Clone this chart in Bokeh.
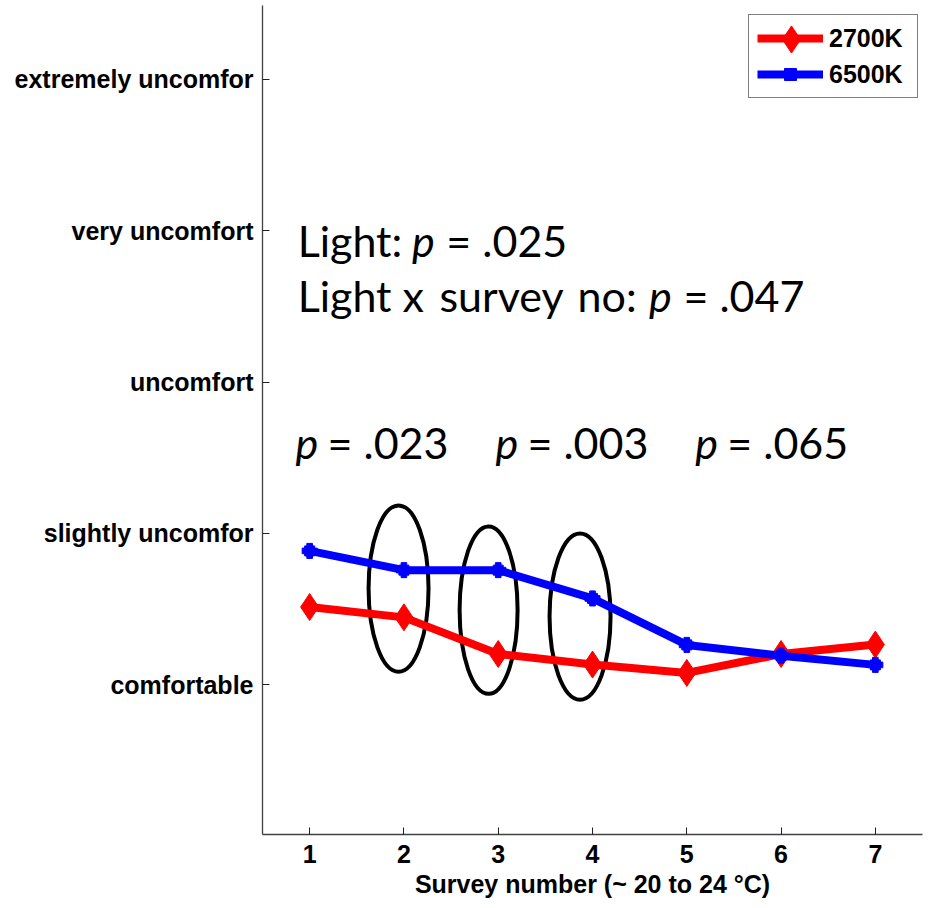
from bokeh.plotting import figure
from bokeh.models import Range1d, FixedTicker, Legend, LegendItem, Label
from bokeh.embed import file_html
from bokeh.resources import INLINE

# ---- data ----
survey = [1, 2, 3, 4, 5, 6, 7]
warm_2700K = [1.514, 1.446, 1.204, 1.134, 1.079, 1.204, 1.266]
cool_6500K = [1.885, 1.758, 1.758, 1.571, 1.264, 1.193, 1.132]
comfort_levels = [1, 2, 3, 4, 5]
comfort_labels = ["comfortable", "slightly uncomfor", "uncomfort",
                  "very uncomfort", "extremely uncomfor"]
# highlighted surveys (ellipses)
ell_x = [1.943, 2.898, 3.868]
ell_y = [1.636, 1.494, 1.451]
ell_w = [0.636, 0.615, 0.647]
ell_h = [1.10, 1.107, 1.10]
pair_p = [".023", ".003", ".065"]
light_p = ".025"
interaction_p = ".047"

p = figure(width=924, height=900,
           x_range=Range1d(0.5, 7.5), y_range=Range1d(0.0115, 5.488),
           output_backend="svg", toolbar_location=None,
           min_border_left=262, min_border_right=2,
           min_border_top=5, min_border_bottom=64)
p.outline_line_color = None
p.grid.visible = False
p.background_fill_color = "white"

for ax in (p.xaxis[0], p.yaxis[0]):
    ax.axis_line_color = "#404040"
    ax.axis_line_width = 1.3
    ax.major_tick_in = 7
    ax.major_tick_out = 0
    ax.minor_tick_in = 0
    ax.minor_tick_out = 0
    ax.major_tick_line_color = "#202020"
    ax.major_label_text_font = "Liberation Sans"
    ax.major_label_text_font_style = "bold"
    ax.major_label_text_font_size = "25px"
    ax.major_label_text_color = "black"

p.xaxis.ticker = FixedTicker(ticks=survey)
p.xaxis.major_label_standoff = 10
p.xaxis.axis_label = "Survey number (~ 20 to 24 °C)"
p.xaxis.axis_label_text_font = "Liberation Sans"
p.xaxis.axis_label_text_font_style = "bold"
p.xaxis.axis_label_text_font_size = "25px"
p.xaxis.axis_label_text_color = "black"
p.xaxis.axis_label_standoff = 4

p.yaxis.ticker = FixedTicker(ticks=comfort_levels)
p.yaxis.major_label_overrides = dict(zip(comfort_levels, comfort_labels))
p.yaxis.major_label_standoff = 9

# ellipses
p.ellipse(x=ell_x, y=ell_y, width=ell_w, height=ell_h,
          fill_color=None, line_color="black", line_width=4)

# series
r_line = p.line(survey, warm_2700K, line_color="#ff0000", line_width=8)
r_mark = p.scatter(survey, warm_2700K, marker="diamond", size=27,
                   fill_color="#ff0000", line_color="#ff0000")
b_line = p.line(survey, cool_6500K, line_color="#0000ff", line_width=8)
b_sq = p.scatter(survey, cool_6500K, marker="square", size=10,
                 fill_color="#0000ff", line_color="#0000ff")
b_pl = p.scatter(survey, cool_6500K, marker="plus", size=15,
                 fill_color="#0000ff", line_color="#0000ff")

legend = Legend(items=[LegendItem(label="2700K", renderers=[r_line, r_mark]),
                       LegendItem(label="6500K", renderers=[b_line, b_sq, b_pl])],
                location=(486, 736), border_line_color="black",
                border_line_width=1.2, padding=8, spacing=6,
                glyph_height=30, glyph_width=66, label_standoff=6,
                label_width=80, margin=0,
                label_text_font="Liberation Sans", label_text_font_style="bold",
                label_text_font_size="25px", label_text_color="black",
                background_fill_alpha=1.0)
p.add_layout(legend)

# overlay legend that only draws the large diamond of the 2700K entry
diamond_key = Legend(items=[LegendItem(label=" ", renderers=[r_mark])],
                     location=(495, 761), border_line_color=None,
                     background_fill_alpha=0.0, padding=0, spacing=0,
                     glyph_height=68, glyph_width=68, label_standoff=0,
                     label_width=0, margin=0, label_text_font_size="1px")
p.add_layout(diamond_key)

# annotation text
FS = "43px"
def add_text(x, y, t, italic=False):
    p.add_layout(Label(x=x, y=y, text=t, text_font="Lato",
                       text_font_size=FS, text_color="black",
                       text_font_style="italic" if italic else "normal",
                       text_baseline="alphabetic", text_align="left"))

y1, y2, y3 = 3.934, 3.572, 2.603
# line 1
add_text(0.873, y1, "Light:")
add_text(2.085, y1, "p", italic=True)
add_text(2.45, y1, "= " + light_p)
# line 2
for xx, w in zip([0.873, 1.985, 2.377, 3.841], ["Light", "x", "survey", "no:"]):
    add_text(xx, y2, w)
add_text(4.60, y2, "p", italic=True)
add_text(4.965, y2, "= " + interaction_p)
# row of pairwise p-values
p_x = [0.85, 2.97, 5.09]
for xx, val in zip(p_x, pair_p):
    add_text(xx, y3, "p", italic=True)
    add_text(xx + 0.34, y3, "= " + val)

open("out.html", "w").write(file_html(p, INLINE))
